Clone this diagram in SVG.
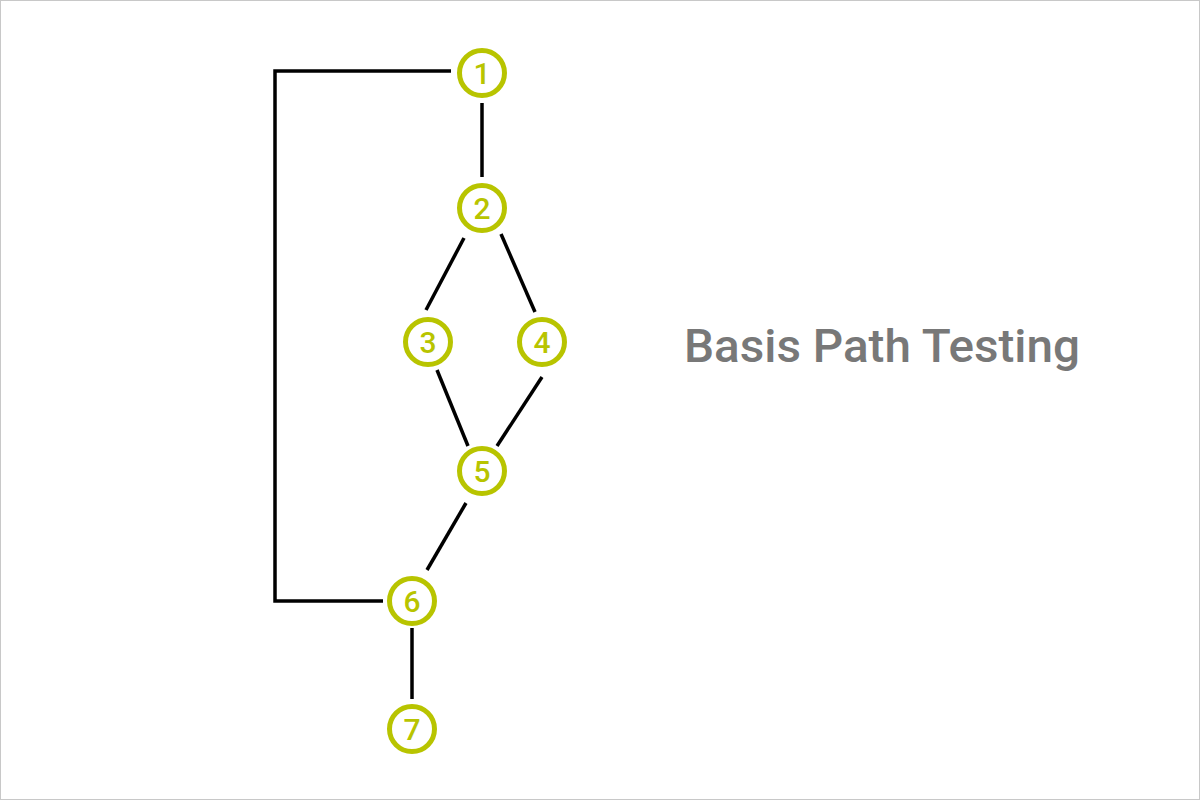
<svg xmlns="http://www.w3.org/2000/svg" width="1200" height="800" viewBox="0 0 1200 800">
<style>
.node circle{fill:#fff;stroke:#b8c400;stroke-width:5}
.node text{font-family:Roboto,"Liberation Sans",sans-serif;font-weight:500;font-size:30px;fill:#b8c400;text-anchor:middle}
.edge{stroke:#000;stroke-width:3.5;fill:none}
.title{font-family:Roboto,"Liberation Sans",sans-serif;font-weight:500;font-size:47px;fill:#787878}
</style>
<rect x="0.5" y="0.5" width="1199" height="799" fill="#fff" stroke="#c8c8c8" stroke-width="1"/>
<g id="connectors">
<polyline class="edge" points="451,71 275,71 275,601 383,601"/>
<line class="edge" x1="482" y1="103" x2="482" y2="177"/>
<line class="edge" x1="464" y1="238" x2="426" y2="310"/>
<line class="edge" x1="501" y1="234" x2="535" y2="312"/>
<line class="edge" x1="437" y1="370" x2="468" y2="446"/>
<line class="edge" x1="542" y1="377" x2="497" y2="446"/>
<line class="edge" x1="466" y1="503" x2="427" y2="570"/>
<line class="edge" x1="412" y1="628" x2="412" y2="699"/>
</g>
<g id="n1" class="node"><circle cx="482" cy="73" r="22.5"/><text x="482" y="84">1</text></g>
<g id="n2" class="node"><circle cx="482" cy="208" r="22.5"/><text x="482" y="219">2</text></g>
<g id="n3" class="node"><circle cx="428" cy="342" r="22.5"/><text x="428" y="353">3</text></g>
<g id="n4" class="node"><circle cx="542" cy="342" r="22.5"/><text x="542" y="353">4</text></g>
<g id="n5" class="node"><circle cx="482" cy="471" r="22.5"/><text x="482" y="482">5</text></g>
<g id="n6" class="node"><circle cx="412" cy="601" r="22.5"/><text x="412" y="612">6</text></g>
<g id="n7" class="node"><circle cx="412" cy="729" r="22.5"/><text x="412" y="740">7</text></g>
<text class="title" x="684" y="362" textLength="396" lengthAdjust="spacingAndGlyphs">Basis Path Testing</text>
</svg>
